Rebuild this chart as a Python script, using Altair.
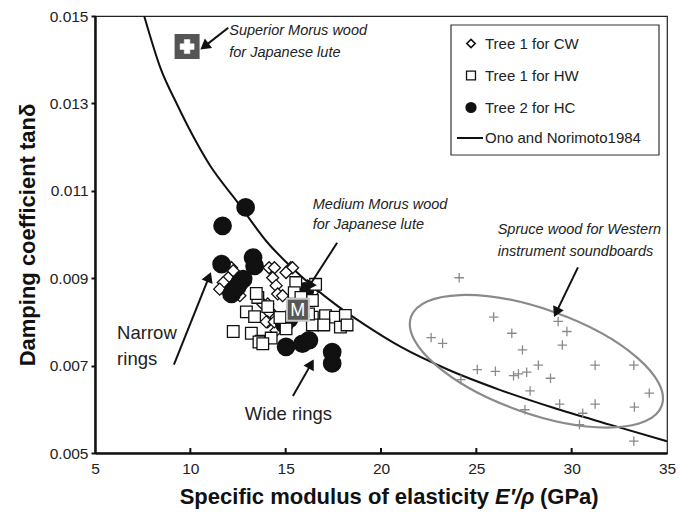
import math
import altair as alt
import pandas as pd

# ---------------- data ----------------
# Tree 1 for CW (open diamonds)
cw_x = [11.64, 11.99, 12.16, 12.25, 11.73, 11.54, 14.13, 14.41, 15.27, 15.36, 15.02, 14.32,
        14.50, 14.58, 14.84, 14.06, 13.80, 14.32, 14.13, 14.06, 14.50, 13.98, 14.40, 14.06,
        16.40, 12.60]
cw_y = [0.00878, 0.00901, 0.00924, 0.00917, 0.00890, 0.00875, 0.00924, 0.00924, 0.00924, 0.00924,
        0.00913, 0.00901, 0.00883, 0.00864, 0.00860, 0.00841, 0.00841, 0.00818, 0.00822, 0.00800,
        0.00780, 0.00800, 0.00800, 0.00761, 0.00867, 0.00860]
# Tree 1 for HW (open squares)
hw_x = [15.53, 16.40, 15.45, 15.80, 13.54, 12.94, 13.37, 14.06, 13.46, 12.25, 13.20, 13.72,
        14.24, 15.02, 17.09, 17.61, 18.13, 17.87, 18.22, 16.40, 16.40, 16.20, 16.57, 13.60,
        17.00, 14.70, 13.80]
hw_y = [0.00890, 0.00849, 0.00867, 0.00856, 0.00856, 0.00823, 0.00812, 0.00835, 0.00865, 0.00778,
        0.00774, 0.00756, 0.00763, 0.00784, 0.00814, 0.00811, 0.00815, 0.00788, 0.00793, 0.00811,
        0.00793, 0.00818, 0.00886, 0.00754, 0.00793, 0.00810, 0.00750]
# Tree 2 for HC (filled circles)
hc_x = [12.90, 11.69, 11.64, 13.29, 13.37, 12.59, 12.33, 12.16, 12.77, 12.45, 16.00, 15.19,
        14.93, 15.02, 15.88, 16.22, 17.44, 17.44]
hc_y = [0.01062, 0.01020, 0.00932, 0.00947, 0.00928, 0.00890, 0.00875, 0.00864, 0.00898, 0.00880,
        0.00870, 0.00807, 0.00795, 0.00743, 0.00750, 0.00758, 0.00731, 0.00705]
# Spruce wood (grey crosses)
sp_x = [24.10, 25.91, 22.63, 23.23, 26.86, 27.42, 29.29, 29.75, 29.51, 25.05, 26.00, 26.95,
        27.21, 27.64, 28.25, 28.89, 27.82, 24.19, 29.37, 30.58, 30.41, 27.55, 31.23, 31.23,
        33.26, 34.07, 33.29, 33.26]
sp_y = [0.00901, 0.00811, 0.00764, 0.00751, 0.00774, 0.00736, 0.00801, 0.00778, 0.00747, 0.00691,
        0.00687, 0.00677, 0.00681, 0.00685, 0.00701, 0.00671, 0.00642, 0.00668, 0.00612, 0.00591,
        0.00565, 0.00599, 0.00701, 0.00612, 0.00701, 0.00637, 0.00605, 0.00527]
# Ono and Norimoto 1984 curve
curve_x = [7.58, 8.44, 9.30, 10.17, 11.00, 12.51, 14.00, 15.50, 17.61, 19.20, 21.07, 23.50,
           26.26, 29.00, 32.00, 35.00]
curve_y = [0.01500, 0.01380, 0.01298, 0.01223, 0.01160, 0.01072, 0.00984, 0.00917, 0.00840,
           0.00792, 0.00742, 0.00691, 0.00644, 0.00604, 0.00565, 0.00527]
# special markers
medium_x, medium_y, medium_label = [15.64], [0.00828], ["M"]
superior_x, superior_y = [9.83], [0.0143]
spruce_zone_x, spruce_zone_y = [28.15], [0.00710]

x_ticks = [5, 10, 15, 20, 25, 30, 35]
x_inner_ticks = [10, 15, 20, 25, 30]
y_ticks = [0.005, 0.007, 0.009, 0.011, 0.013, 0.015]
legend_labels = ["Tree 1 for CW", "Tree 1 for HW", "Tree 2 for HC", "Ono and Norimoto1984"]

italic_text = ["Superior Morus wood", "for Japanese lute", "Medium Morus wood", "for Japanese lute",
               "Spruce wood for Western", "instrument soundboards"]
italic_x = [12.04, 12.04, 16.42, 16.42, 26.12, 26.12]
italic_y = [0.014654, 0.014149, 0.010679, 0.010226, 0.010113, 0.009602]
plain_text = ["Narrow", "rings", "Wide rings"]
plain_x = [6.16, 6.16, 12.85]
plain_y = [0.007738, 0.007142, 0.005891]

arrow_tail_x = [11.99, 17.70, 30.33, 9.14, 15.38]
arrow_tail_y = [0.01473, 0.00981, 0.009247, 0.007023, 0.006305]
arrow_tip_x = [10.61, 16.14, 29.12, 11.04, 16.42]
arrow_tip_y = [0.01426, 0.008756, 0.008154, 0.009095, 0.00710]

# ---------------- layout ----------------
W, H = 572, 437
X0, X1 = 5, 35
Y0, Y1 = 0.005, 0.015
FONT = "Liberation Sans"
INK = "#111111"

xs = alt.Scale(domain=[X0, X1], nice=False, zero=False)
ys = alt.Scale(domain=[Y0, Y1], nice=False, zero=False)
x_axis = alt.Axis(values=x_ticks, format="d", ticks=False, labelFont=FONT, labelFontSize=15.5,
                  labelColor="#222", labelPadding=8, domainWidth=2.5, domainColor=INK,
                  grid=False, title=None, labelFlush=False)
y_axis = alt.Axis(values=y_ticks, format=".3f", tickSize=4, tickWidth=2, tickColor=INK,
                  labelFont=FONT, labelFontSize=15.5, labelColor="#222", labelPadding=3,
                  domainWidth=2.5, domainColor=INK, grid=False, labelFlush=False,
                  title="Damping coefficient tanδ", titleFont=FONT, titleFontSize=22,
                  titleFontWeight="bold", titleColor=INK, titlePadding=10)


def X(f="x"):
    return alt.X(f"{f}:Q", scale=xs, axis=x_axis)


def Y(f="y"):
    return alt.Y(f"{f}:Q", scale=ys, axis=y_axis)


curve = alt.Chart(pd.DataFrame({"x": curve_x, "y": curve_y})).mark_line(
    color=INK, strokeWidth=2, interpolate="monotone", clip=True).encode(x=X(), y=Y())

ticks_in = alt.Chart(pd.DataFrame({"x": x_inner_ticks})).mark_rule(
    color=INK, strokeWidth=2).encode(x=X(), y=alt.value(H), y2=alt.value(H - 5))

ellipse_path = ("M1,0 C1,0.2168 0.5523,0.3926 0,0.3926 C-0.5523,0.3926 -1,0.2168 -1,0 "
                "C-1,-0.2168 -0.5523,-0.3926 0,-0.3926 C0.5523,-0.3926 1,-0.2168 1,0 Z")
ellipse = alt.Chart(pd.DataFrame({"x": spruce_zone_x, "y": spruce_zone_y})).mark_point(
    shape=ellipse_path, size=70756, angle=19.5, filled=False, stroke="#8a8a8a",
    strokeWidth=2.2, opacity=1).encode(x=X(), y=Y())

spruce = alt.Chart(pd.DataFrame({"x": sp_x, "y": sp_y})).mark_point(
    shape="M-1,0L1,0M0,-1L0,1", size=90, filled=False, stroke="#8a8a8a",
    strokeWidth=1.3, opacity=1).encode(x=X(), y=Y())

cw = alt.Chart(pd.DataFrame({"x": cw_x, "y": cw_y})).mark_point(
    shape="diamond", size=144, filled=True, fill="white", stroke=INK, strokeWidth=1.3,
    opacity=1).encode(x=X(), y=Y())
hc = alt.Chart(pd.DataFrame({"x": hc_x, "y": hc_y})).mark_point(
    shape="circle", size=280, filled=True, fill=INK, stroke=INK, opacity=1).encode(x=X(), y=Y())
hw = alt.Chart(pd.DataFrame({"x": hw_x, "y": hw_y})).mark_point(
    shape="square", size=135, filled=True, fill="white", stroke=INK, strokeWidth=1.3,
    opacity=1).encode(x=X(), y=Y())

m_df = pd.DataFrame({"x": medium_x, "y": medium_y, "label": medium_label})
m_box = alt.Chart(m_df).mark_point(shape="square", size=484, filled=True, fill="#575757",
                                   stroke="#c8c8c8", strokeWidth=2, opacity=1).encode(x=X(), y=Y())
m_txt = alt.Chart(m_df).mark_text(font=FONT, fontSize=18, color="white", baseline="middle",
                                  dy=1).encode(x=X(), y=Y(), text="label:N")

s_df = pd.DataFrame({"x": superior_x, "y": superior_y})
s_box = alt.Chart(s_df).mark_point(shape="square", size=529, filled=True, fill="#555555",
                                   stroke="#555555", opacity=1).encode(x=X(), y=Y())
s_cross = alt.Chart(s_df).mark_point(shape="cross", size=196, filled=True, fill="white",
                                     stroke="white", strokeWidth=0.5, opacity=1).encode(x=X(), y=Y())

# arrows
sx = W / (X1 - X0)
sy = H / (Y1 - Y0)
head_size = 70
hh = math.sqrt(3) * math.sqrt(head_size) / 4
rows = []
for tx, ty, px_, py_ in zip(arrow_tail_x, arrow_tail_y, arrow_tip_x, arrow_tip_y):
    dx = (px_ - tx) * sx
    dy = -(py_ - ty) * sy
    L = math.hypot(dx, dy)
    ux, uy = dx / L, dy / L
    cx = px_ - ux * hh / sx
    cy = py_ + uy * hh / sy
    ang = math.degrees(math.atan2(dx, -dy)) % 360
    rows.append({"x1": tx, "y1": ty, "x2": cx, "y2": cy, "angle": ang})
arr_df = pd.DataFrame(rows)
arrow_lines = alt.Chart(arr_df).mark_rule(color=INK, strokeWidth=2).encode(
    x=X("x1"), y=Y("y1"), x2="x2:Q", y2="y2:Q")
arrow_heads = alt.Chart(arr_df).mark_point(shape="triangle-up", size=head_size, filled=True,
                                           fill=INK, stroke=INK, opacity=1).encode(
    x=X("x2"), y=Y("y2"), angle=alt.Angle("angle:Q", scale=None))

ital = alt.Chart(pd.DataFrame({"x": italic_x, "y": italic_y, "t": italic_text})).mark_text(
    font=FONT, fontSize=14.5, fontStyle="italic", color="#222", align="left",
    baseline="middle").encode(x=X(), y=Y(), text="t:N")
plain = alt.Chart(pd.DataFrame({"x": plain_x, "y": plain_y, "t": plain_text})).mark_text(
    font=FONT, fontSize=18.5, color="#222", align="left", baseline="middle").encode(
    x=X(), y=Y(), text="t:N")

# x-axis title with italic E'/rho
one = pd.DataFrame({"k": [0]})
title_y = H + 44
t1 = alt.Chart(one).mark_text(text="Specific modulus of elasticity", font=FONT, fontSize=22,
                              fontWeight="bold", color=INK, align="right", baseline="middle").encode(
    x=alt.value(394), y=alt.value(title_y))
t2 = alt.Chart(one).mark_text(text="E′/ρ", font=FONT, fontSize=22, fontWeight="bold",
                              fontStyle="italic", color=INK, align="left", baseline="middle").encode(
    x=alt.value(400), y=alt.value(title_y))
t3 = alt.Chart(one).mark_text(text="(GPa)", font=FONT, fontSize=22, fontWeight="bold",
                              color=INK, align="left", baseline="middle").encode(
    x=alt.value(445), y=alt.value(title_y))

# legend (pixel positions inside the plot area)
LX = -4
LY = -2
leg_box = alt.Chart(one).mark_rect(fill="white", stroke="#333", strokeWidth=1.2).encode(
    x=alt.value(360 + LX), x2=alt.value(568 + LX), y=alt.value(11 + LY), y2=alt.value(141 + LY))
row_y = [29.5 + LY, 61.5 + LY, 93.5 + LY, 124 + LY]
leg_layers = [leg_box]
leg_layers.append(alt.Chart(one).mark_point(shape="diamond", size=70, filled=True, fill="white",
                                            stroke=INK, strokeWidth=1.6, opacity=1).encode(
    x=alt.value(380 + LX), y=alt.value(row_y[0])))
leg_layers.append(alt.Chart(one).mark_point(shape="square", size=80, filled=True, fill="white",
                                            stroke=INK, strokeWidth=1.3, opacity=1).encode(
    x=alt.value(380 + LX), y=alt.value(row_y[1])))
leg_layers.append(alt.Chart(one).mark_point(shape="circle", size=85, filled=True, fill=INK,
                                            stroke=INK, opacity=1).encode(
    x=alt.value(380 + LX), y=alt.value(row_y[2])))
leg_layers.append(alt.Chart(one).mark_rule(color=INK, strokeWidth=2).encode(
    x=alt.value(366 + LX), x2=alt.value(392 + LX), y=alt.value(row_y[3])))
for lab, yy in zip(legend_labels, row_y):
    leg_layers.append(alt.Chart(one).mark_text(text=lab, font=FONT, fontSize=15, color="#222",
                                               align="left", baseline="middle").encode(
        x=alt.value(394 + LX), y=alt.value(yy)))

chart = alt.layer(
    curve, ticks_in, ellipse, spruce, cw, hc, hw, m_box, m_txt, s_box, s_cross,
    arrow_lines, arrow_heads, ital, plain, t1, t2, t3, *leg_layers
).properties(
    width=W, height=H,
    autosize=alt.AutoSizeParams(type="none"),
    padding={"left": 87, "top": 8, "right": 9, "bottom": 60},
    background="white",
).configure_view(stroke="#222", strokeWidth=1.2)

chart.save("out.html", embed_options={"renderer": "svg", "actions": False})
